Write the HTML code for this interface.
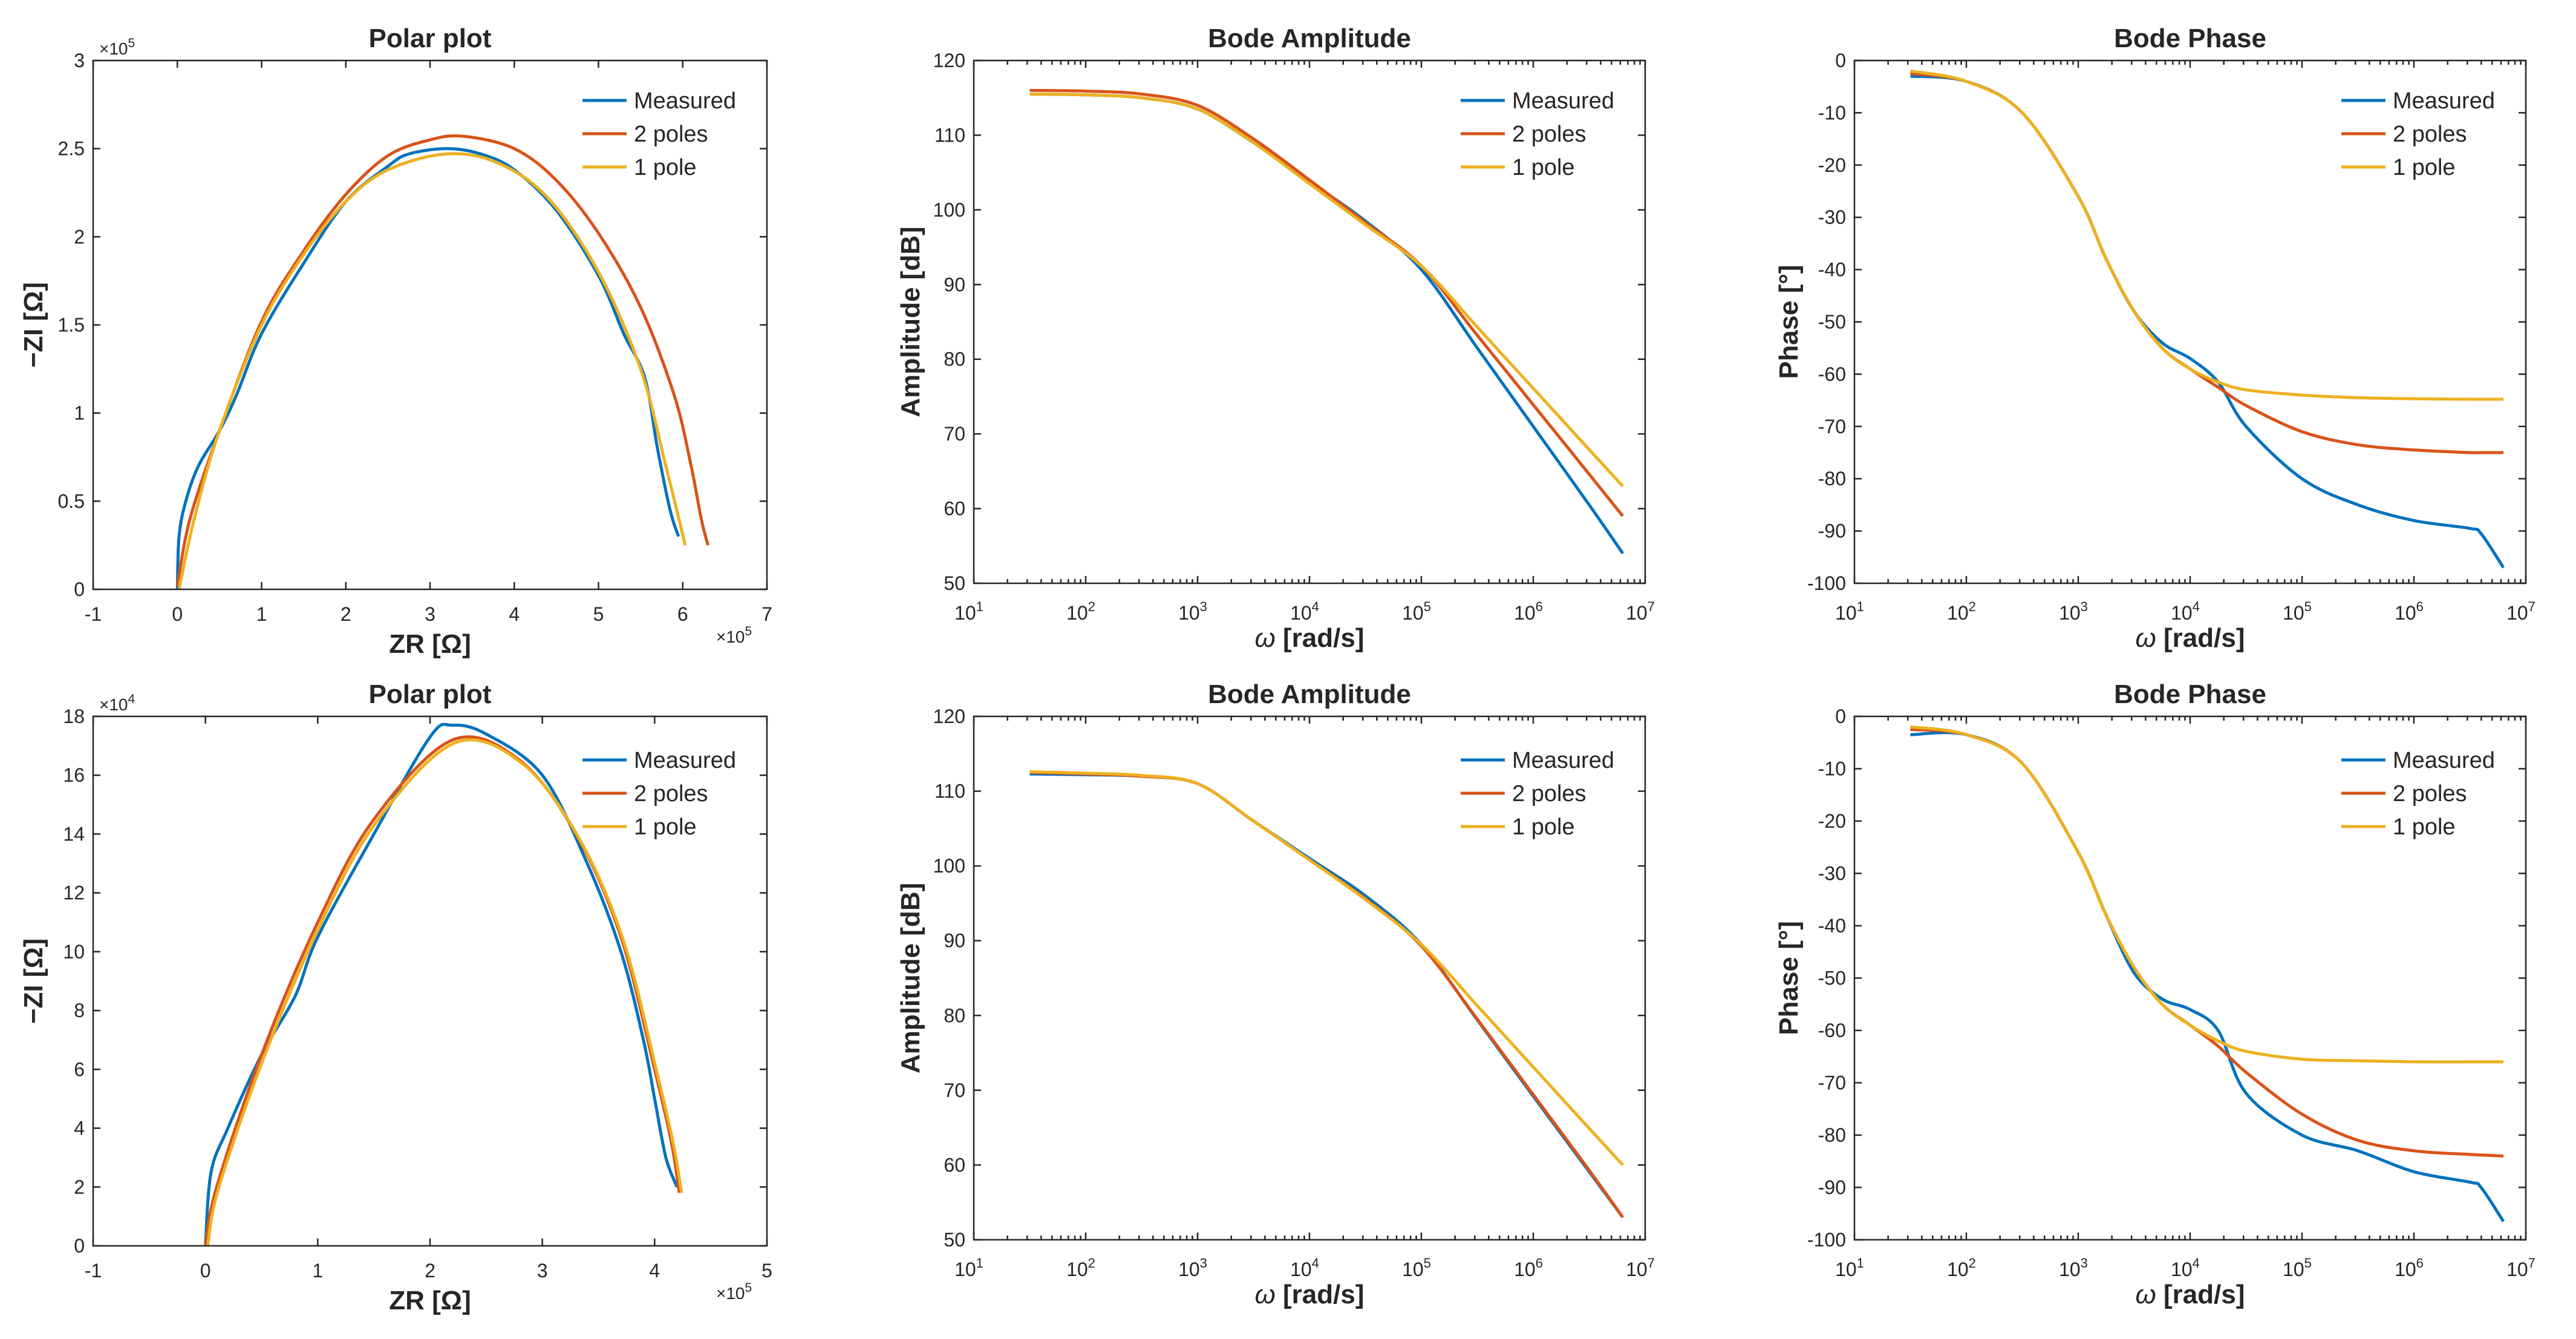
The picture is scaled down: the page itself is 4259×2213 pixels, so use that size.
<!DOCTYPE html>
<html><head><meta charset="utf-8"><style>
html,body{margin:0;padding:0;background:#fff;}
svg{display:block;font-family:"Liberation Sans",Arial,sans-serif;}
</style></head><body>
<svg id="fig" width="4259" height="2213" viewBox="0 0 4259 2213"></svg>
<script>
// ---------- DATA ----------
// Polar plot 1 (x in 1e5 Ohm, y in 1e5 Ohm)
const p1MeasX=[0,0.02,0.1,0.25,0.5,0.7,1,1.5,2,2.5,2.75,3.2,3.6,4,4.5,5,5.3,5.55,5.7,5.85,5.95];
const p1MeasY=[0,0.3,0.5,0.7,0.9,1.1,1.45,1.85,2.2,2.4,2.47,2.5,2.47,2.38,2.15,1.78,1.45,1.2,0.8,0.45,0.3];
const p1TwoX=[0,0.15,0.5,1,1.5,2,2.5,3,3.4,4,4.5,5,5.5,5.9,6.1,6.22,6.3];
const p1TwoY=[0.02,0.4,0.9,1.52,1.92,2.24,2.46,2.55,2.57,2.5,2.32,2.02,1.6,1.1,0.7,0.4,0.25];
const p1OneX=[0.02,0.2,0.5,1,1.5,2,2.5,3.2,3.8,4.4,5,5.5,5.8,6.03];
const p1OneY=[0,0.4,0.9,1.5,1.9,2.2,2.38,2.47,2.42,2.22,1.8,1.25,0.7,0.25];
// Polar plot 2 (x in 1e5, y in 1e4)
const p2MeasX=[0,0.05,0.2,0.5,0.8,1,1.5,2,2.2,2.5,3,3.4,3.7,3.9,4,4.1,4.2];
const p2MeasY=[0,2.5,4,6.5,8.5,10.5,14,17.3,17.7,17.4,16,13,10,7,5,3,2];
const p2TwoX=[0,0.1,0.5,1,1.5,2.2,2.8,3.3,3.7,4,4.15,4.22];
const p2TwoY=[0,2,6.5,11,14.5,17.2,16.5,14,10.5,6,3.5,1.8];
const p2OneX=[0.02,0.12,0.52,1.02,1.52,2.22,2.82,3.32,3.72,4.02,4.17,4.24];
const p2OneY=[0,2,6.4,10.9,14.4,17.1,16.4,13.9,10.4,5.9,3.4,1.8];
// Bode amplitude (log10 omega)
const ampLogW=[1.5,2,2.5,3,3.5,4,4.5,5,5.5,6,6.5,6.8];
const amp1Meas=[115.5,115.4,115.0,113.5,109,103.8,98.5,92,81.5,71,60.5,54];
const amp1Two=[116,115.9,115.5,114,109.5,104,98.3,92.5,83.2,73.9,64.6,59];
const amp1One=[115.5,115.4,115.0,113.5,109,103.5,98,92.5,84.3,76.1,67.9,63];
const amp2Meas=[112.3,112.2,112,111,106,101,96,89.5,79.4,69.2,59.1,53];
const amp2Two=[112.5,112.3,112,111,106,100.8,95.6,89.3,79.5,69.4,59.3,53];
const amp2One=[112.6,112.4,112.1,111,106,100.8,95.5,89.5,81.3,73.1,64.9,60];
// Bode phase
const phLogW=[1.5,2,2.5,3,3.25,3.5,3.75,4,4.25,4.5,5,5.5,6,6.5,6.6,6.8];
const ph1Meas=[-3,-4,-10,-26,-38,-48,-54,-57,-61.5,-70,-80,-85,-88,-89.5,-90.5,-97];
const ph1Two=[-2.5,-4,-10,-26,-38,-48,-55,-59,-62.5,-66,-71,-73.5,-74.5,-75,-75,-75];
const ph1One=[-2,-4,-10,-26,-38,-48,-55,-59,-61.5,-63,-64,-64.5,-64.7,-64.8,-64.8,-64.8];
const ph2Meas=[-3.5,-3.5,-9,-26,-38,-49,-54,-56,-60,-72,-80,-83,-87,-89,-90,-96.5];
const ph2Two=[-2.5,-3.5,-9,-26,-38,-48,-55,-59,-63,-68,-76,-81,-83,-83.7,-83.8,-84];
const ph2One=[-2,-3.5,-9,-26,-38,-48,-55,-59,-62,-64,-65.5,-65.8,-66,-66,-66,-66];
// tick labels
const polar1XTicks=[-1,0,1,2,3,4,5,6,7];
const polar1YTicks=[0,0.5,1,1.5,2,2.5,3];
const polar2XTicks=[-1,0,1,2,3,4,5];
const polar2YTicks=[0,2,4,6,8,10,12,14,16,18];
const logDecades=[1,2,3,4,5,6,7];
const ampTicks=[50,60,70,80,90,100,110,120];
const phaseTicks=[-100,-90,-80,-70,-60,-50,-40,-30,-20,-10,0];

const COLORS=["#0072BD","#D95319","#EDB120"];
const NAMES=["Measured","2 poles","1 pole"];
const svg=document.getElementById('fig');
const NS="http://www.w3.org/2000/svg";
function mk(tag,attrs,parent){const e=document.createElementNS(NS,tag);for(const k in attrs)e.setAttribute(k,attrs[k]);(parent||svg).appendChild(e);return e;}
function txt(s,x,y,size,anchor,parent,weight){const t=mk('text',{x:x,y:y,'font-size':size,'text-anchor':anchor||'middle',fill:'#262626','font-weight':weight||'normal'},parent);t.textContent=s;return t;}
function smooth(pts){let d="M"+pts[0][0]+","+pts[0][1];for(let i=0;i<pts.length-1;i++){const p0=pts[Math.max(0,i-1)],p1=pts[i],p2=pts[i+1],p3=pts[Math.min(pts.length-1,i+2)];const c1x=p1[0]+(p2[0]-p0[0])/6,c1y=p1[1]+(p2[1]-p0[1])/6,c2x=p2[0]-(p3[0]-p1[0])/6,c2y=p2[1]-(p3[1]-p1[1])/6;d+=" C"+c1x+","+c1y+" "+c2x+","+c2y+" "+p2[0]+","+p2[1];}return d;}

function panel(cfg){
  const g=mk('g',{});
  
  
  const L=cfg.L,R=cfg.R,T=cfg.T,B=cfg.B;
  const sx=v=>L+(v-cfg.xmin)/(cfg.xmax-cfg.xmin)*(R-L);
  const sy=v=>B-(v-cfg.ymin)/(cfg.ymax-cfg.ymin)*(B-T);
  const tg=mk('g',{stroke:'#262626','stroke-width':2.5},g);
  
  
  cfg.xt.forEach(v=>{const x=sx(v);mk('line',{x1:x,y1:B,x2:x,y2:B-12},tg);mk('line',{x1:x,y1:T,x2:x,y2:T+12},tg);});
  if(cfg.log){for(let d=cfg.xmin;d<cfg.xmax;d++)for(let k=2;k<10;k++){const x=sx(d+Math.log10(k));mk('line',{x1:x,y1:B,x2:x,y2:B-7},tg);mk('line',{x1:x,y1:T,x2:x,y2:T+7},tg);}}
  cfg.yt.forEach(v=>{const y=sy(v);mk('line',{x1:L,y1:y,x2:L+12,y2:y},tg);mk('line',{x1:R,y1:y,x2:R-12,y2:y},tg);});
  const lg=mk('g',{},g);
  
  
  cfg.xt.forEach(v=>{const x=sx(v);
    if(cfg.log){const t=txt('10',x-8,B+60,32,'middle',lg);const s=mk('tspan',{dy:-14,'font-size':22},t);s.textContent=String(v);}
    else txt(String(v),x,B+52,32,'middle',lg);});
  cfg.yt.forEach(v=>txt(String(v),L-14,sy(v)+11,32,'end',lg));
  if(cfg.ymult){const t=txt('×10',L+10,T-10,28,'start',lg);const s=mk('tspan',{dy:-12,'font-size':21},t);s.textContent=cfg.ymult;}
  if(cfg.xmult){const t=txt('×10',R-84,B+88,28,'start',lg);const s=mk('tspan',{dy:-12,'font-size':21},t);s.textContent=cfg.xmult;}
  const cp='cp'+cfg.name;
  const clip=mk('clipPath',{id:cp},g);mk('rect',{x:L,y:T,width:R-L,height:B-T},clip);
  const sg=mk('g',{'clip-path':'url(#'+cp+')'},g);
  cfg.series.forEach((s,i)=>{const pts=s.x.map((xv,j)=>[sx(xv),sy(s.y[j])]);
    const p=mk('path',{d:smooth(pts),fill:'none',stroke:COLORS[i],'stroke-width':5,'stroke-linejoin':'round'},sg);
    
    });
  mk('rect',{x:L,y:T,width:R-L,height:B-T,fill:'none',stroke:'#262626','stroke-width':2.5},g);
  const tt=txt(cfg.title,(L+R)/2,T-22,44,'middle',g,'bold');
  
  
  const xl=txt('',(L+R)/2,B+105,44,'middle',g,'bold');
  
  
  if(cfg.xlabelOmega){const a=mk('tspan',{'font-style':'italic','font-weight':'normal'},xl);a.textContent='ω';const b=mk('tspan',{},xl);b.textContent=' [rad/s]';}
  else xl.textContent=cfg.xlabel;
  const yl=mk('text',{transform:'translate('+(cfg.ylx)+','+((T+B)/2)+') rotate(-90)','font-size':44,'font-weight':'bold','text-anchor':'middle',fill:'#262626'},g);
  yl.textContent=cfg.ylabel;
  
  
  const leg=mk('g',{},g);
  
  
  NAMES.forEach((n,i)=>{const y=T+cfg.legOff+i*55;
    const e=mk('g',{},leg);
    
    
    mk('line',{x1:R-305,y1:y,x2:R-232,y2:y,stroke:COLORS[i],'stroke-width':5},e);
    txt(n,R-220,y+13,38,'start',e);});
}
panel({name:'polar-plot-1',L:154,R:1268,T:100,B:974,xmin:-1,xmax:7,ymin:0,ymax:3,xt:polar1XTicks,yt:polar1YTicks,ymult:'5',xmult:'5',title:'Polar plot',xlabel:'ZR [Ω]',ylabel:'−ZI  [Ω]',ylx:70,legOff:66,
  series:[{x:p1MeasX,y:p1MeasY},{x:p1TwoX,y:p1TwoY},{x:p1OneX,y:p1OneY}]});
panel({name:'bode-amplitude-1',L:1610,R:2720,T:100,B:964,xmin:1,xmax:7,ymin:50,ymax:120,xt:logDecades,yt:ampTicks,log:true,title:'Bode Amplitude',xlabelOmega:true,ylabel:'Amplitude [dB]',ylx:1520,legOff:66,
  series:[{x:ampLogW,y:amp1Meas},{x:ampLogW,y:amp1Two},{x:ampLogW,y:amp1One}]});
panel({name:'bode-phase-1',L:3066,R:4176,T:100,B:964,xmin:1,xmax:7,ymin:-100,ymax:0,xt:logDecades,yt:phaseTicks,log:true,title:'Bode Phase',xlabelOmega:true,ylabel:'Phase [°]',ylx:2972,legOff:66,
  series:[{x:phLogW,y:ph1Meas},{x:phLogW,y:ph1Two},{x:phLogW,y:ph1One}]});
panel({name:'polar-plot-2',L:154,R:1268,T:1184,B:2059,xmin:-1,xmax:5,ymin:0,ymax:18,xt:polar2XTicks,yt:polar2YTicks,ymult:'4',xmult:'5',title:'Polar plot',xlabel:'ZR [Ω]',ylabel:'−ZI  [Ω]',ylx:70,legOff:72,
  series:[{x:p2MeasX,y:p2MeasY},{x:p2TwoX,y:p2TwoY},{x:p2OneX,y:p2OneY}]});
panel({name:'bode-amplitude-2',L:1610,R:2720,T:1184,B:2049,xmin:1,xmax:7,ymin:50,ymax:120,xt:logDecades,yt:ampTicks,log:true,title:'Bode Amplitude',xlabelOmega:true,ylabel:'Amplitude [dB]',ylx:1520,legOff:72,
  series:[{x:ampLogW,y:amp2Meas},{x:ampLogW,y:amp2Two},{x:ampLogW,y:amp2One}]});
panel({name:'bode-phase-2',L:3066,R:4176,T:1184,B:2049,xmin:1,xmax:7,ymin:-100,ymax:0,xt:logDecades,yt:phaseTicks,log:true,title:'Bode Phase',xlabelOmega:true,ylabel:'Phase [°]',ylx:2972,legOff:72,
  series:[{x:phLogW,y:ph2Meas},{x:phLogW,y:ph2Two},{x:phLogW,y:ph2One}]});
</script>
</body></html>
